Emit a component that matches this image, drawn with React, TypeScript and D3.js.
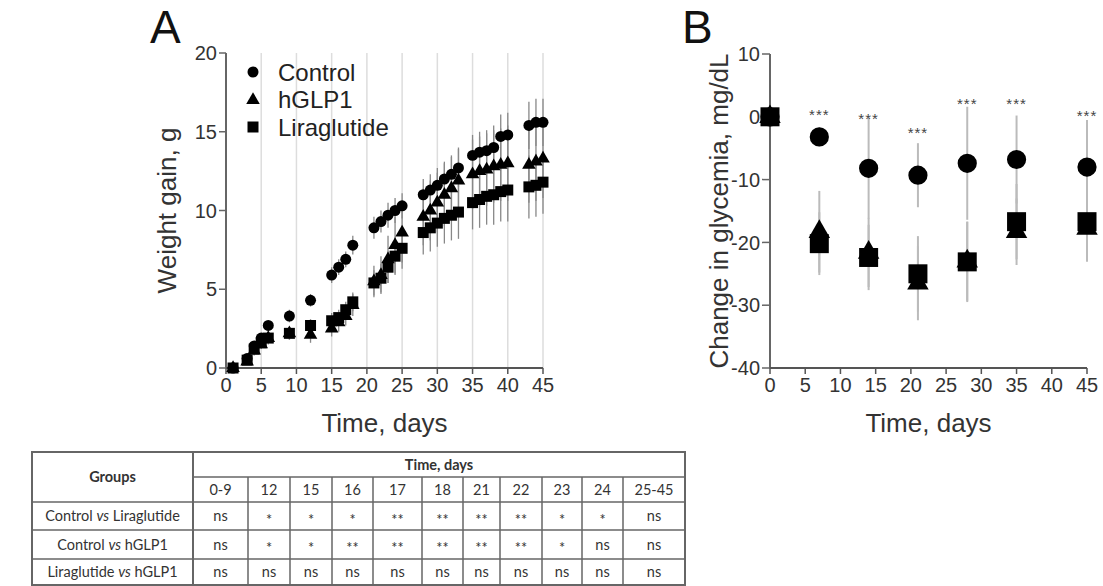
import * as d3 from 'd3';

// Panel A: weight gain (g) by day
const daysA = [1, 3, 4, 5, 6, 9, 12, 15, 16, 17, 18, 21, 22, 23, 24, 25, 28, 29, 30, 31, 32, 33, 35, 36, 37, 38, 39, 40, 43, 44, 45];
const controlA = [0, 0.6, 1.4, 1.9, 2.7, 3.3, 4.3, 5.9, 6.4, 6.9, 7.8, 8.9, 9.3, 9.7, 10.0, 10.3, 11.0, 11.3, 11.6, 12.0, 12.3, 12.7, 13.5, 13.7, 13.8, 14.0, 14.7, 14.8, 15.4, 15.6, 15.6];
const hglp1A = [0, 0.4, 1.1, 1.5, 1.9, 2.2, 2.1, 2.5, 2.9, 3.3, 4.0, 5.5, 5.9, 6.9, 7.8, 8.6, 9.6, 10.0, 10.5, 11.0, 11.4, 11.9, 12.3, 12.5, 12.6, 12.8, 12.9, 13.0, 12.9, 13.1, 13.3];
const liraA = [0, 0.5, 1.2, 1.6, 1.9, 2.2, 2.7, 3.0, 3.2, 3.7, 4.2, 5.4, 5.7, 6.4, 7.1, 7.6, 8.6, 8.9, 9.2, 9.5, 9.7, 9.9, 10.5, 10.7, 10.9, 11.0, 11.2, 11.3, 11.5, 11.6, 11.8];
const controlSdA = [0, 0.2, 0.3, 0.3, 0.3, 0.4, 0.4, 0.5, 0.5, 0.5, 0.6, 0.7, 0.7, 0.8, 0.8, 0.8, 1.0, 1.0, 1.1, 1.1, 1.2, 1.2, 1.3, 1.3, 1.3, 1.4, 1.4, 1.4, 1.5, 1.5, 1.5];
const hglp1SdA = [0, 0.2, 0.3, 0.3, 0.4, 0.4, 0.5, 0.5, 0.6, 0.6, 0.7, 1.0, 1.2, 1.5, 1.8, 1.9, 1.8, 1.9, 1.9, 2.0, 2.0, 2.1, 2.2, 2.2, 2.3, 2.3, 2.3, 2.4, 2.4, 2.5, 2.5];
const liraSdA = [0, 0.2, 0.3, 0.3, 0.3, 0.4, 0.4, 0.5, 0.5, 0.5, 0.6, 0.8, 0.9, 1.0, 1.2, 1.3, 1.4, 1.5, 1.5, 1.6, 1.6, 1.7, 1.7, 1.8, 1.8, 1.9, 1.9, 2.0, 2.0, 2.0, 2.0];

// Panel B: change in glycemia (mg/dL)
const daysB = [0, 7, 14, 21, 28, 35, 45];
const controlB = [0, -3.2, -8.2, -9.3, -7.4, -6.8, -8.0];
const controlSdB = [0, 1.5, 8.0, 5.1, 9.0, 7.0, 7.5];
const hglp1B = [0, -18.3, -21.6, -26.5, -23.0, -18.3, -17.8];
const hglp1SdB = [0, 6.5, 5.5, 5.9, 6.3, 5.3, 5.3];
const liraB = [0, -20.2, -22.4, -25.0, -23.1, -16.7, -16.7];
const liraSdB = [0, 5.0, 5.2, 6.0, 6.4, 6.0, 6.0];
const starLevelB = [null, 1.0, 0.3, -1.9, 2.7, 2.7, 0.8];

// Table
const timeCols = ['0-9', '12', '15', '16', '17', '18', '21', '22', '23', '24', '25-45'];
const comparisons = [
  ['Control', 'Liraglutide'],
  ['Control', 'hGLP1'],
  ['Liraglutide', 'hGLP1'],
];
const ctrlVsLira = ['ns', '*', '*', '*', '**', '**', '**', '**', '*', '*', 'ns'];
const ctrlVsHglp1 = ['ns', '*', '*', '**', '**', '**', '**', '**', '*', 'ns', 'ns'];
const liraVsHglp1 = ['ns', 'ns', 'ns', 'ns', 'ns', 'ns', 'ns', 'ns', 'ns', 'ns', 'ns'];
const tableValues = [ctrlVsLira, ctrlVsHglp1, liraVsHglp1];

const FONT = '"Liberation Sans", Arial, sans-serif';
const TFONT = 'Lato, "Open Sans", sans-serif';

const circle = d3.symbol().type(d3.symbolCircle);
const square = d3.symbol().type(d3.symbolSquare);
const triangle = d3.symbol().type(d3.symbolTriangle);

function Markers({ days, vals, xs, ys, path }) {
  return (
    <g>
      {days.map((d, i) => (
        <path key={i} d={path} transform={`translate(${xs(d)},${ys(vals[i])})`} fill="#000" />
      ))}
    </g>
  );
}

function ErrBars({ days, vals, sds, xs, ys, color, width }) {
  return (
    <g stroke={color} strokeWidth={width}>
      {days.map((d, i) =>
        sds[i] > 0 ? (
          <line key={i} x1={xs(d)} x2={xs(d)} y1={ys(vals[i] - sds[i])} y2={ys(vals[i] + sds[i])} />
        ) : null
      )}
    </g>
  );
}

function Axes({ xs, ys, xTicks, yTicks, tickLen = 7 }) {
  const [x0, x1] = xs.range();
  const [y0, y1] = ys.range();
  return (
    <g fontFamily={FONT} fontSize={20} fill="#333">
      <line x1={x0} x2={x0} y1={y0} y2={y1} stroke="#666" strokeWidth={2} />
      <line x1={x0} x2={x1} y1={y0} y2={y0} stroke="#555" strokeWidth={2} />
      {yTicks.map((t) => (
        <g key={'y' + t}>
          <line x1={x0 - tickLen} x2={x0} y1={ys(t)} y2={ys(t)} stroke="#666" strokeWidth={1.5} />
          <text x={x0 - tickLen - 2} y={ys(t)} dy="0.36em" textAnchor="end">{t}</text>
        </g>
      ))}
      {xTicks.map((t) => (
        <g key={'x' + t}>
          <line x1={xs(t)} x2={xs(t)} y1={y0} y2={y0 + 6} stroke="#555" strokeWidth={1.5} />
          <text x={xs(t)} y={y0 + 24} textAnchor="middle">{t}</text>
        </g>
      ))}
    </g>
  );
}

export default function App() {
  const xA = d3.scaleLinear().domain([0, 45]).range([226, 543]);
  const yA = d3.scaleLinear().domain([0, 20]).range([368, 53]);
  const xB = d3.scaleLinear().domain([0, 45]).range([770, 1087]);
  const yB = d3.scaleLinear().domain([-40, 10]).range([368, 54]);
  const xTicks = d3.range(0, 46, 5);

  const circA = circle.size(95)();
  const sqA = square.size(121)();
  const triA = triangle.size(80)();
  const circB = circle.size(290)();
  const sqB = square.size(361)();
  const triB = triangle.size(200)();

  // table layout
  const colWidths = [161, 55, 42, 42, 41, 49, 41, 37, 42, 40, 41, 62];
  const colX = [32];
  colWidths.forEach((w) => colX.push(colX[colX.length - 1] + w));
  const rowY = [452, 477, 502, 530, 559, 585];
  const tRight = colX[colX.length - 1];

  return (
    <svg width={1103} height={586} style={{ position: 'absolute', left: 0, top: 0, background: '#fff' }}>
      {/* Panel A */}
      <text x={150} y={43} fontFamily={FONT} fontSize={46} fill="#111">A</text>
      <g stroke="#ddd" strokeWidth={1.5}>
        {xTicks.filter((t) => t > 0).map((t) => (
          <line key={t} x1={xA(t)} x2={xA(t)} y1={yA(20)} y2={yA(0)} />
        ))}
      </g>
      <Axes xs={xA} ys={yA} xTicks={xTicks} yTicks={[0, 5, 10, 15, 20]} />
      <ErrBars days={daysA} vals={controlA} sds={controlSdA} xs={xA} ys={yA} color="#888" width={1.3} />
      <ErrBars days={daysA} vals={hglp1A} sds={hglp1SdA} xs={xA} ys={yA} color="#888" width={1.3} />
      <ErrBars days={daysA} vals={liraA} sds={liraSdA} xs={xA} ys={yA} color="#888" width={1.3} />
      <Markers days={daysA} vals={controlA} xs={xA} ys={yA} path={circA} />
      <Markers days={daysA} vals={hglp1A} xs={xA} ys={yA} path={triA} />
      <Markers days={daysA} vals={liraA} xs={xA} ys={yA} path={sqA} />
      <g fontFamily={FONT} fontSize={24} fill="#222">
        <path d={circA} transform="translate(253,72)" fill="#000" />
        <text x={278} y={72} dy="0.36em">Control</text>
        <path d={triA} transform="translate(253,100)" fill="#000" />
        <text x={278} y={99.5} dy="0.36em">hGLP1</text>
        <path d={sqA} transform="translate(253,127)" fill="#000" />
        <text x={278} y={127} dy="0.36em">Liraglutide</text>
      </g>
      <text transform={`translate(176,${yA(10)}) rotate(-90)`} textAnchor="middle" fontFamily={FONT} fontSize={26} fill="#333">Weight gain, g</text>
      <text x={(xA(0) + xA(45)) / 2} y={432} textAnchor="middle" fontFamily={FONT} fontSize={26} fill="#333">Time, days</text>

      {/* Panel B */}
      <text x={682} y={43} fontFamily={FONT} fontSize={46} fill="#111">B</text>
      <Axes xs={xB} ys={yB} xTicks={xTicks} yTicks={[10, 0, -10, -20, -30, -40]} tickLen={8} />
      <ErrBars days={daysB} vals={controlB} sds={controlSdB} xs={xB} ys={yB} color="#bbb" width={2} />
      <ErrBars days={daysB} vals={hglp1B} sds={hglp1SdB} xs={xB} ys={yB} color="#bbb" width={2} />
      <ErrBars days={daysB} vals={liraB} sds={liraSdB} xs={xB} ys={yB} color="#bbb" width={2} />
      <Markers days={daysB} vals={controlB} xs={xB} ys={yB} path={circB} />
      <Markers days={daysB} vals={hglp1B} xs={xB} ys={yB} path={triB} />
      <Markers days={daysB} vals={liraB} xs={xB} ys={yB} path={sqB} />
      <g fontFamily={FONT} fontSize={15} fill="#444" letterSpacing={1}>
        {daysB.map((d, i) =>
          starLevelB[i] === null ? null : (
            <text key={d} x={xB(d)} y={yB(starLevelB[i])} dy="0.62em" textAnchor="middle">***</text>
          )
        )}
      </g>
      <text transform={`translate(728,${(yB(10) + yB(-40)) / 2}) rotate(-90)`} textAnchor="middle" fontFamily={FONT} fontSize={26} fill="#333">Change in glycemia, mg/dL</text>
      <text x={(xB(0) + xB(45)) / 2} y={432} textAnchor="middle" fontFamily={FONT} fontSize={26} fill="#333">Time, days</text>

      {/* Table */}
      <g fontFamily={TFONT} fontSize={14.5} fill="#333">
        <g stroke="#666" strokeWidth={1.5} fill="none">
          <rect x={colX[0]} y={rowY[0]} width={tRight - colX[0]} height={rowY[5] - rowY[0]} strokeWidth={2} />
          <line x1={colX[1]} x2={tRight} y1={rowY[1]} y2={rowY[1]} />
          {[2, 3, 4].map((r) => (
            <line key={r} x1={colX[0]} x2={tRight} y1={rowY[r]} y2={rowY[r]} />
          ))}
          <line x1={colX[1]} x2={colX[1]} y1={rowY[0]} y2={rowY[5]} strokeWidth={2} />
          {colX.slice(2, -1).map((x, i) => (
            <line key={i} x1={x} x2={x} y1={rowY[1]} y2={rowY[5]} />
          ))}
        </g>
        <text x={(colX[0] + colX[1]) / 2} y={(rowY[0] + rowY[2]) / 2} dy="0.35em" textAnchor="middle" fontWeight="bold">Groups</text>
        <text x={(colX[1] + tRight) / 2} y={(rowY[0] + rowY[1]) / 2} dy="0.35em" textAnchor="middle" fontWeight="bold">Time, days</text>
        {timeCols.map((c, i) => (
          <text key={c} x={(colX[i + 1] + colX[i + 2]) / 2} y={(rowY[1] + rowY[2]) / 2} dy="0.35em" textAnchor="middle">{c}</text>
        ))}
        {comparisons.map((pair, r) => (
          <g key={r}>
            <text x={(colX[0] + colX[1]) / 2} y={(rowY[r + 2] + rowY[r + 3]) / 2} dy="0.35em" textAnchor="middle">
              {pair[0]} <tspan fontStyle="italic">vs</tspan> {pair[1]}
            </text>
            {tableValues[r].map((v, i) => (
              <text key={i} x={(colX[i + 1] + colX[i + 2]) / 2} y={(rowY[r + 2] + rowY[r + 3]) / 2} dy={v === 'ns' ? '0.35em' : '0.6em'} textAnchor="middle">{v}</text>
            ))}
          </g>
        ))}
      </g>
    </svg>
  );
}
